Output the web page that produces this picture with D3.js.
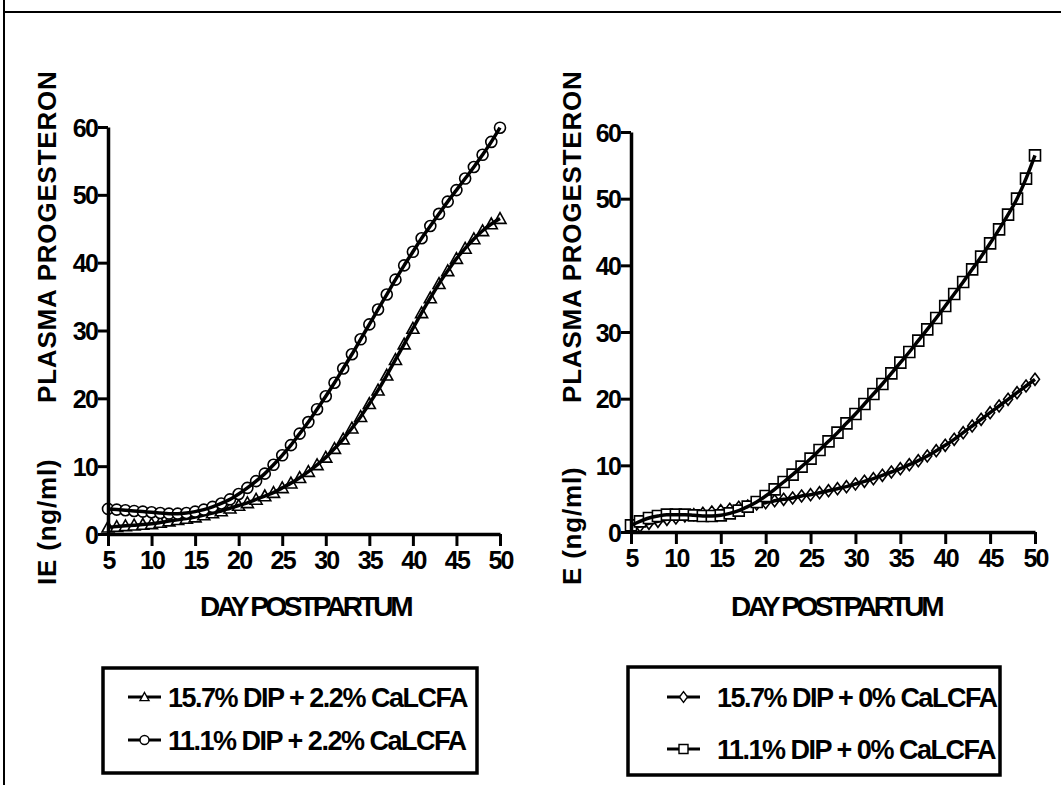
<!DOCTYPE html>
<html>
<head>
<meta charset="utf-8">
<script src="https://cdn.jsdelivr.net/npm/d3@7"></script>
<style>
body { margin: 0; background: #fff; }
text { font-family: "Liberation Sans", Arial, sans-serif; font-weight: bold; fill: #000; }
</style>
</head>
<body>
<div id="chart"></div>
<script>
// days postpartum, one point per day
var days = d3.range(5, 51);
var xTicks = [5, 10, 15, 20, 25, 30, 35, 40, 45, 50];
var yTicks = [0, 10, 20, 30, 40, 50, 60];

// left panel, 2.2% CaLCFA
var dip157_cal22 = [1.0, 1.1, 1.2, 1.3, 1.4, 1.5, 1.7, 1.9, 2.1, 2.3,
	2.5, 2.8, 3.1, 3.4, 3.8, 4.2, 4.6, 5.1, 5.6, 6.1,
	6.8, 7.5, 8.3, 9.2, 10.2, 11.3, 12.6, 14.0, 15.6, 17.3,
	19.2, 21.2, 23.4, 25.7, 28.0, 30.3, 32.6, 34.8, 36.9, 38.8,
	40.6, 42.1, 43.5, 44.7, 45.7, 46.5];
var dip111_cal22 = [3.7, 3.6, 3.5, 3.4, 3.3, 3.2, 3.1, 3.0, 3.0, 3.1,
	3.3, 3.6, 4.0, 4.5, 5.1, 5.9, 6.8, 7.8, 8.9, 10.2,
	11.6, 13.1, 14.8, 16.5, 18.4, 20.3, 22.3, 24.4, 26.5, 28.7,
	30.9, 33.1, 35.3, 37.5, 39.6, 41.6, 43.6, 45.4, 47.2, 49.0,
	50.7, 52.4, 54.1, 55.9, 57.8, 59.9];

// right panel, 0% CaLCFA
var dip157_cal0 = [0.6, 0.9, 1.3, 1.6, 1.9, 2.1, 2.4, 2.6, 2.8, 3.0,
	3.2, 3.4, 3.7, 3.9, 4.2, 4.4, 4.7, 4.9, 5.1, 5.4,
	5.6, 5.9, 6.2, 6.5, 6.8, 7.2, 7.6, 8.0, 8.5, 9.0,
	9.5, 10.1, 10.7, 11.4, 12.2, 13.0, 13.9, 14.9, 15.9, 16.9,
	17.9, 18.9, 19.9, 20.9, 21.9, 22.9];
var dip111_cal0 = [1.0, 1.6, 2.1, 2.4, 2.6, 2.6, 2.6, 2.5, 2.4, 2.4,
	2.5, 2.8, 3.2, 3.8, 4.5, 5.4, 6.4, 7.5, 8.6, 9.8,
	11.0, 12.3, 13.6, 14.9, 16.3, 17.7, 19.2, 20.7, 22.2, 23.8,
	25.4, 27.0, 28.7, 30.4, 32.1, 33.9, 35.7, 37.5, 39.4, 41.3,
	43.3, 45.4, 47.6, 50.0, 53.0, 56.5];

var leftNames = ["15.7% DIP + 2.2% CaLCFA", "11.1% DIP + 2.2% CaLCFA"];
var rightNames = ["15.7% DIP + 0% CaLCFA", "11.1% DIP + 0% CaLCFA"];

var svg = d3.select("#chart").append("svg")
	.attr("width", 1061)
	.attr("height", 785);

// frame lines
svg.append("path").attr("d", "M4,0 L4,785").attr("stroke", "#000").attr("stroke-width", 2).attr("fill", "none");
svg.append("path").attr("d", "M4,12 L1061,12").attr("stroke", "#000").attr("stroke-width", 2).attr("fill", "none");

function markerPath(kind, s) {
	if (kind == "circle") {
		return d3.symbol().type(d3.symbolCircle).size(Math.PI * s * s)();
	}
	if (kind == "triangle") {
		return "M0," + (-s) + " L" + s + "," + (s * 0.8) + " L" + (-s) + "," + (s * 0.8) + " Z";
	}
	if (kind == "square") {
		return "M" + (-s) + "," + (-s) + " L" + s + "," + (-s) + " L" + s + "," + s + " L" + (-s) + "," + s + " Z";
	}
	// diamond
	return "M0," + (-s * 1.2) + " L" + (s * 0.9) + ",0 L0," + (s * 1.2) + " L" + (-s * 0.9) + ",0 Z";
}

function drawPanel(opt) {
	var x = d3.scaleLinear().domain([5, 50]).range(opt.xr);
	var y = d3.scaleLinear().domain([0, 60]).range(opt.yr);
	var g = svg.append("g");

	// series
	opt.series.forEach(function(s) {
		var pts = days.map(function(d, i) { return [d, s.values[i]]; });
		g.append("g").selectAll("path").data(pts).enter().append("path")
			.attr("d", markerPath(s.marker, s.size))
			.attr("transform", function(p) { return "translate(" + x(p[0]) + "," + y(p[1]) + ")"; })
			.attr("fill", "#fff").attr("stroke", "#000").attr("stroke-width", 1.6);
		g.append("path").datum(pts)
			.attr("d", d3.line().curve(d3.curveMonotoneX).x(function(p) { return x(p[0]); }).y(function(p) { return y(p[1]); }))
			.attr("fill", "none").attr("stroke", "#000").attr("stroke-width", 3.5);
	});

	// axes
	var ax = g.append("g").attr("transform", "translate(0," + opt.yr[0] + ")")
		.call(d3.axisBottom(x).tickValues(xTicks).tickSize(12).tickPadding(5).tickSizeOuter(0));
	var ay = g.append("g").attr("transform", "translate(" + opt.xr[0] + ",0)")
		.call(d3.axisLeft(y).tickValues(yTicks).tickSize(10).tickPadding(1).tickSizeOuter(0));
	[ax, ay].forEach(function(a) {
		a.select(".domain").attr("stroke", "#000").attr("stroke-width", 3.5);
		a.selectAll(".tick line").attr("stroke", "#000").attr("stroke-width", 3);
		a.selectAll(".tick text").attr("font-size", 25).attr("letter-spacing", -1.8)
			.attr("font-family", "'Liberation Sans', Arial, sans-serif").attr("font-weight", "bold").attr("fill", "#000");
	});
	ax.selectAll(".tick text").attr("dy", "0.71em");
	ay.selectAll(".tick text").attr("dy", "0.36em");

	// axis titles
	g.append("text").attr("x", opt.xTitle).attr("y", 616).attr("text-anchor", "middle")
		.attr("font-size", 28).attr("letter-spacing", -3.4).text("DAY POSTPARTUM");
	g.append("text").attr("transform", "translate(" + (opt.yTitle + 9) + ",403) rotate(-90)")
		.attr("font-size", 26).attr("letter-spacing", 0.8).text("PLASMA PROGESTERON");
	g.append("text").attr("transform", "translate(" + (opt.yTitle + 9) + ",585) rotate(-90)")
		.attr("font-size", 26).attr("letter-spacing", 0.8).text(opt.unitText);

	// legend
	var lg = opt.legend;
	g.append("rect").attr("x", lg.x).attr("y", lg.y).attr("width", lg.w).attr("height", lg.h)
		.attr("fill", "none").attr("stroke", "#000").attr("stroke-width", 3.5);
	opt.series.forEach(function(s, i) {
		var ry = lg.rows[i];
		g.append("path").attr("d", "M" + lg.sx + "," + ry + " L" + (lg.sx + 33) + "," + ry)
			.attr("stroke", "#000").attr("stroke-width", 3);
		g.append("path").attr("d", markerPath(s.marker, 4.5))
			.attr("transform", "translate(" + (lg.sx + 16.5) + "," + ry + ")")
			.attr("fill", "#fff").attr("stroke", "#000").attr("stroke-width", 1.4);
		g.append("text").attr("x", lg.tx).attr("y", ry + 10).attr("font-size", 27).attr("letter-spacing", -1.5)
			.text(opt.names[i]);
	});
}

drawPanel({
	xr: [108, 500], yr: [534, 127], xTitle: 305, yTitle: 47, unitText: "IE (ng/ml)",
	names: leftNames,
	series: [
		{ values: dip157_cal22, marker: "triangle", size: 6 },
		{ values: dip111_cal22, marker: "circle", size: 5.5 }
	],
	legend: { x: 103, y: 668, w: 374, h: 105, rows: [697, 740], sx: 128, tx: 168 }
});

drawPanel({
	xr: [631, 1035], yr: [532, 132], xTitle: 836, yTitle: 572, unitText: "E (ng/ml)",
	names: rightNames,
	series: [
		{ values: dip157_cal0, marker: "diamond", size: 5 },
		{ values: dip111_cal0, marker: "square", size: 5.5 }
	],
	legend: { x: 628, y: 667, w: 372, h: 108, rows: [697, 749], sx: 667, tx: 717 }
});
</script>
</body>
</html>
